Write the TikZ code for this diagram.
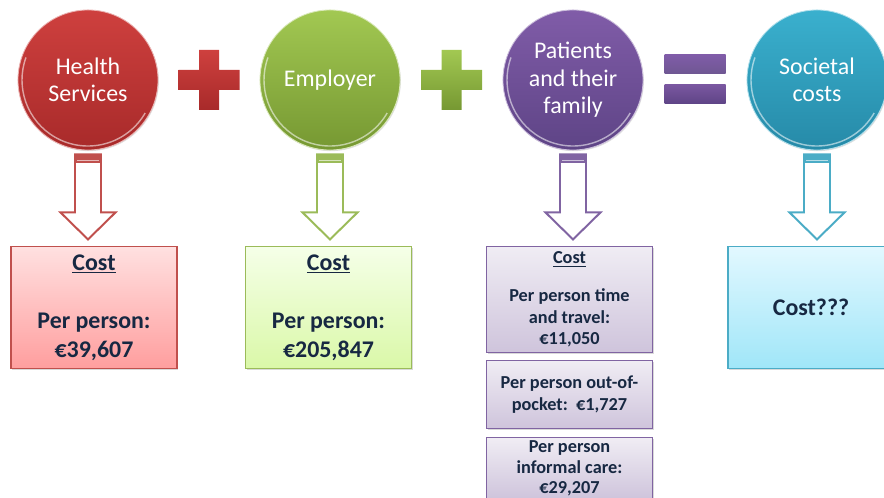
\documentclass[tikz,border=0pt]{standalone}
\usepackage{fontspec}
\setmainfont{Carlito}
\usetikzlibrary{positioning,calc,shadows}
\definecolor{healthred}{RGB}{192,80,77}
\definecolor{employgreen}{RGB}{155,187,89}
\definecolor{patpurple}{RGB}{128,100,162}
\definecolor{socteal}{RGB}{75,172,198}
\definecolor{costnavy}{RGB}{23,40,66}
% ball shades
\definecolor{redtop}{RGB}{206,64,62}
\definecolor{redbot}{RGB}{168,42,42}
\definecolor{greentop}{RGB}{162,200,82}
\definecolor{greenbot}{RGB}{118,152,50}
\definecolor{purpletop}{RGB}{128,92,168}
\definecolor{purplebot}{RGB}{94,68,134}
\definecolor{tealtop}{RGB}{58,176,206}
\definecolor{tealbot}{RGB}{38,138,168}

\begin{document}
\begin{tikzpicture}[x=0.025cm, y=-0.025cm,
    ball/.style={circle, minimum size=3.5cm, inner sep=0pt, align=center, text=white,
        font=\fontsize{17}{19.5}\selectfont, line width=0.6pt,
        drop shadow={opacity=0.25, shadow xshift=0.6pt, shadow yshift=-0.8pt}},
    costbox/.style={rectangle, minimum width=4.15cm, inner sep=2pt, align=center,
        text=costnavy, line width=0.8pt, anchor=north,
        drop shadow={opacity=0.3, shadow xshift=0.8pt, shadow yshift=-1pt}},
    bigcost/.style={font=\fontsize{17}{20.5}\selectfont\bfseries},
    smallcost/.style={font=\fontsize{13}{15.6}\selectfont\bfseries},
    purplebox/.style={costbox, smallcost, draw=patpurple, top color=patpurple!12, bottom color=patpurple!38}]
    \useasboundingbox (0,0) rectangle (884,498);
    \clip (0,0) rectangle (884,498);

    % Payers
    \node[ball, draw=redtop!40, top color=redtop, bottom color=redbot] (hs) at (88,80) {Health\\Services};
    \node[ball, draw=greentop!40, top color=greentop, bottom color=greenbot] (emp) at (330,80) {Employer};
    \node[ball, draw=purpletop!40, top color=purpletop, bottom color=purplebot] (pat) at (573,80) {Patients\\and their\\family};
    \node[ball, draw=tealtop!40, top color=tealtop, bottom color=tealbot] (soc) at (817,80) {Societal\\costs};

    % Gloss rims
    \foreach \n in {hs,emp,pat,soc}
        \draw[white, opacity=0.55, line width=1pt] ($(\n.center)+(30:66)$) arc (30:200:66);

    % Operators
    \coordinate (plusA) at ($(hs.east)!0.5!(emp.west)$);
    \coordinate (plusB) at ($(emp.east)!0.5!(pat.west)$);
    \coordinate (eq) at ($(pat.east)!0.5!(soc.west)$);
    \path[top color=redtop, bottom color=redbot, shift={(plusA)}]
        (-30.5,-10) -- (-10,-10) -- (-10,-30) -- (10,-30) -- (10,-10) -- (30.5,-10)
        -- (30.5,10) -- (10,10) -- (10,30) -- (-10,30) -- (-10,10) -- (-30.5,10) -- cycle;
    \path[top color=greentop, bottom color=greenbot, shift={(plusB)}]
        (-30.5,-10) -- (-10,-10) -- (-10,-30) -- (10,-30) -- (10,-10) -- (30.5,-10)
        -- (30.5,10) -- (10,10) -- (10,30) -- (-10,30) -- (-10,10) -- (-30.5,10) -- cycle;
    \path[top color=purpletop, bottom color=purplebot!90, shift={(eq)}]
        (-30.5,-25) rectangle (30.5,-6);
    \path[top color=purpletop!95!black, bottom color=purplebot, shift={(eq)}]
        (-30.5,5) rectangle (30.5,24);

    % Block arrows
    \foreach \n/\c in {hs/healthred,emp/employgreen,pat/patpurple,soc/socteal}{
        \begin{scope}[shift={(\n.south)}]
            \draw[\c, line width=1.4pt, fill=white, line join=miter]
                (-13,4) -- (-13,62) -- (-27.5,62) -- (0,89) -- (27.5,62) -- (13,62) -- (13,4) -- cycle;
            \fill[\c] (-13,4) rectangle (13,13);
            \draw[white!60!\c, line width=0.5pt] (-11,10) -- (11,10);
        \end{scope}
    }

    % Cost boxes
    \node[costbox, bigcost, minimum height=3.05cm, draw=healthred, top color=red!12, bottom color=red!38!white] (hsbox) at (94,246)
        {\underline{Cost}\\ \\Per person:\\€39,607};
    \node[costbox, bigcost, minimum height=3.05cm, draw=employgreen, top color={rgb,255:red,245;green,255;blue,232}, bottom color={rgb,255:red,218;green,248;blue,168}] (empbox) at (328.5,246)
        {\underline{Cost}\\ \\Per person:\\€205,847};
    \node[purplebox, minimum height=2.65cm] (patbox) at (569.5,246)
        {\underline{Cost}\\[11pt]Per person time\\and travel:\\€11,050};
    \node[purplebox, minimum height=1.7cm, below=0.175cm of patbox] (oopbox)
        {Per person out-of-\\pocket:\ \ €1,727};
    \node[purplebox, minimum height=1.525cm, below=0.2cm of oopbox, font=\fontsize{13}{14.6}\selectfont\bfseries] (carebox)
        {Per person\\informal care:\\€29,207};
    \node[costbox, bigcost, minimum height=3.05cm, draw=socteal, top color={rgb,255:red,226;green,248;blue,255}, bottom color={rgb,255:red,160;green,230;blue,248}] (socbox) at (811,246)
        {Cost???};
\end{tikzpicture}
\end{document}
